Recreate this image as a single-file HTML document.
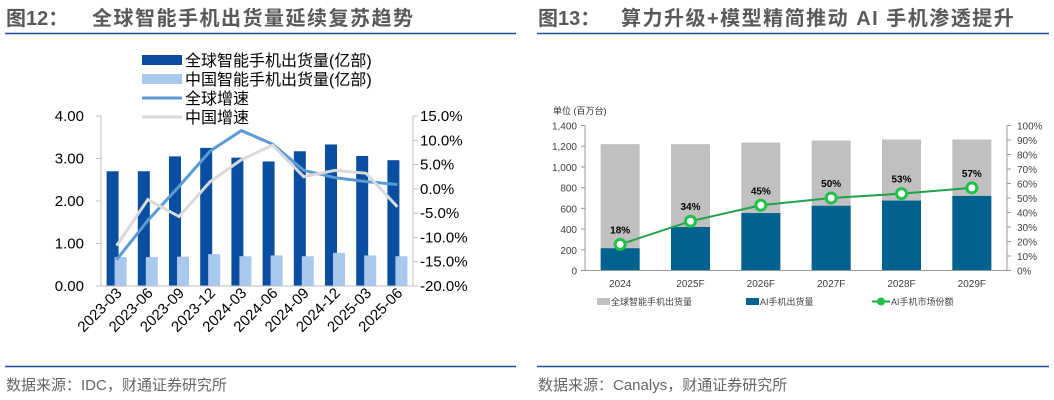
<!DOCTYPE html>
<html><head><meta charset="utf-8"><style>
body{margin:0;width:1054px;height:400px;background:#fff;overflow:hidden;font-family:"Liberation Sans","Noto Sans CJK SC",sans-serif}
svg{position:absolute;left:0;top:0}
</style></head><body>
<svg id="s" width="1054" height="400">
<text x="6" y="25" font-size="20" font-weight="bold" fill="#595959" font-family="Liberation Sans,Noto Sans CJK SC,sans-serif">图12：</text>
<text x="92" y="25" font-size="20" font-weight="bold" fill="#595959" letter-spacing="1.5" font-family="Liberation Sans,Noto Sans CJK SC,sans-serif">全球智能手机出货量延续复苏趋势</text>
<line x1="5" y1="33.5" x2="516" y2="33.5" stroke="#1f4e9a" stroke-width="1.5"/>
<text x="538" y="25" font-size="20" font-weight="bold" fill="#595959" font-family="Liberation Sans,Noto Sans CJK SC,sans-serif">图13：</text>
<text x="621" y="25" font-size="20" font-weight="bold" fill="#595959" letter-spacing="1.5" font-family="Liberation Sans,Noto Sans CJK SC,sans-serif">算力升级+模型精简推动 AI 手机渗透提升</text>
<line x1="537" y1="33.5" x2="1049" y2="33.5" stroke="#1f4e9a" stroke-width="1.5"/>
<line x1="5" y1="366.5" x2="516" y2="366.5" stroke="#1f4e9a" stroke-width="1.5"/>
<line x1="537" y1="366.5" x2="1049" y2="366.5" stroke="#1f4e9a" stroke-width="1.5"/>
<text x="6" y="390" font-size="15" fill="#666" font-family="Liberation Sans,Noto Sans CJK SC,sans-serif">数据来源：IDC，财通证券研究所</text>
<text x="538" y="390" font-size="15" fill="#666" font-family="Liberation Sans,Noto Sans CJK SC,sans-serif">数据来源：Canalys，财通证券研究所</text>
<g id="c1"></g>
<g id="c2"></g>
</svg>
<script>
const cats1=["2023-03","2023-06","2023-09","2023-12","2024-03","2024-06","2024-09","2024-12","2025-03","2025-06"];
const globalShip=[2.70,2.70,3.05,3.25,3.02,2.93,3.17,3.33,3.06,2.96];
const chinaShip=[0.68,0.68,0.69,0.75,0.70,0.72,0.70,0.78,0.72,0.70];
const globalGrowth=[-14.6,-6.5,0.5,7.8,12.0,9.2,3.8,2.3,1.5,0.9];
const chinaGrowth=[-11.7,-2.2,-5.7,1.5,6.0,9.0,2.5,3.8,3.2,-3.7];
const leftTicks=["0.00","1.00","2.00","3.00","4.00"];
const rightTicks=["-20.0%","-15.0%","-10.0%","-5.0%","0.0%","5.0%","10.0%","15.0%"];
const cats2=["2024","2025F","2026F","2027F","2028F","2029F"];
const totalShip=[1220,1220,1235,1255,1265,1265];
const aiShip=[215,420,555,625,675,720];
const aiShare=[18,34,45,50,53,57];
const ticks2L=["0","200","400","600","800","1,000","1,200","1,400"];
const ticks2R=["0%","10%","20%","30%","40%","50%","60%","70%","80%","90%","100%"];
const NS="http://www.w3.org/2000/svg";
function mk(p,t,a,txt){const e=document.createElementNS(NS,t);for(const k in a)e.setAttribute(k,a[k]);if(txt!=null)e.textContent=txt;p.appendChild(e);return e;}
const F='Liberation Sans,Noto Sans CJK SC,sans-serif';
// chart 1
const g1=document.getElementById('c1');
const X0=101,X1=413,Y0=286,Y1=116;
const bw1=(X1-X0)/cats1.length;
const yL=v=>Y0-(v/4)*(Y0-Y1);
const yR=v=>Y0-((v+20)/35)*(Y0-Y1);
const cx1=i=>X0+bw1*(i+0.5);
leftTicks.forEach((t,i)=>{const y=yL(i);
 let e=mk(g1,'text',{x:84,y:y+5,'font-size':15,'text-anchor':'end',fill:'#000','font-family':F},t);
 
 
 mk(g1,'line',{x1:96,x2:101,y1:y,y2:y,stroke:'#bfbfbf'});});
rightTicks.forEach((t,i)=>{const y=yR(-20+i*5);
 let e=mk(g1,'text',{x:420,y:y+5,'font-size':15,fill:'#000','font-family':F},t);
 
 
 mk(g1,'line',{x1:413,x2:418,y1:y,y2:y,stroke:'#bfbfbf'});});
mk(g1,'line',{x1:X0,x2:X0,y1:Y1,y2:Y0,stroke:'#bfbfbf'});
mk(g1,'line',{x1:X1,x2:X1,y1:Y1,y2:Y0,stroke:'#bfbfbf'});
cats1.forEach((c,i)=>{
 let b=mk(g1,'rect',{x:cx1(i)-10,y:yL(globalShip[i]),width:12,height:Y0-yL(globalShip[i]),fill:'#0a4ea2'});
 
 
 let b2=mk(g1,'rect',{x:cx1(i)-2,y:yL(chinaShip[i]),width:12,height:Y0-yL(chinaShip[i]),fill:'#a9c8ee'});
 
 
 let t=mk(g1,'text',{x:0,y:0,'font-size':15,'text-anchor':'end',fill:'#000','font-family':F,transform:`translate(${cx1(i)+6},${Y0+8}) rotate(-45)`},c);
 
 
});
mk(g1,'line',{x1:X0,x2:X1,y1:Y0,y2:Y0,stroke:'#bfbfbf'});
let l1=mk(g1,'polyline',{points:globalGrowth.map((v,i)=>cx1(i)+','+yR(v)).join(' '),fill:'none',stroke:'#5b9bd5','stroke-width':3});


let l2=mk(g1,'polyline',{points:chinaGrowth.map((v,i)=>cx1(i)+','+yR(v)).join(' '),fill:'none',stroke:'#d9d9d9','stroke-width':3});


const leg1=[["全球智能手机出货量(亿部)",'bar','#0a4ea2'],["中国智能手机出货量(亿部)",'bar','#a9c8ee'],["全球增速",'line','#5b9bd5'],["中国增速",'line','#d9d9d9']];
leg1.forEach((l,i)=>{const y=60+i*19;
 if(l[1]=='bar')mk(g1,'rect',{x:142,y:y-5,width:40,height:10,fill:l[2]});
 else mk(g1,'line',{x1:142,x2:182,y1:y,y2:y,stroke:l[2],'stroke-width':3});
 let e=mk(g1,'text',{x:185,y:y+6,'font-size':16,fill:'#000','font-family':F},l[0]);
 
 });
// chart 2
const g2=document.getElementById('c2');
const A0=585,A1=1007,B0=270.5,B1=125.5;
const bw2=(A1-A0)/cats2.length;
const y2=v=>B0-(v/1400)*(B0-B1);
const y2r=v=>B0-(v/100)*(B0-B1);
const cx2=i=>A0+bw2*(i+0.5);
mk(g2,'text',{x:553,y:114,'font-size':9,fill:'#333','font-family':F},'单位 (百万台)');
ticks2L.forEach((t,i)=>{const y=y2(i*200);
 let e=mk(g2,'text',{x:577,y:y+4,'font-size':10,'text-anchor':'end',fill:'#404040','font-family':F},t);
 
 
 mk(g2,'line',{x1:581,x2:585,y1:y,y2:y,stroke:'#999'});});
ticks2R.forEach((t,i)=>{const y=y2r(i*10);
 let e=mk(g2,'text',{x:1017,y:y+4,'font-size':10,fill:'#404040','font-family':F},t);
 
 
 mk(g2,'line',{x1:1007,x2:1011,y1:y,y2:y,stroke:'#999'});});
mk(g2,'line',{x1:A0,x2:A0,y1:B1,y2:B0,stroke:'#999'});
mk(g2,'line',{x1:A1,x2:A1,y1:B1,y2:B0,stroke:'#999'});
cats2.forEach((c,i)=>{
 let b=mk(g2,'rect',{x:cx2(i)-19.5,y:y2(totalShip[i]),width:39,height:B0-y2(totalShip[i]),fill:'#c0c0c0'});
 
 
 let b2=mk(g2,'rect',{x:cx2(i)-19.5,y:y2(aiShip[i]),width:39,height:B0-y2(aiShip[i]),fill:'#02628f'});
 
 
 let t=mk(g2,'text',{x:cx2(i),y:287,'font-size':10,'text-anchor':'middle',fill:'#404040','font-family':F},c);
 
 
});
mk(g2,'line',{x1:A0,x2:A1,y1:B0,y2:B0,stroke:'#999'});
let l3=mk(g2,'polyline',{points:aiShare.map((v,i)=>cx2(i)+','+y2r(v)).join(' '),fill:'none',stroke:'#1ea24a','stroke-width':2});


aiShare.forEach((v,i)=>{
 let p=mk(g2,'circle',{cx:cx2(i),cy:y2r(v),r:5,fill:'#fff',stroke:'#1ec24a','stroke-width':3});
 
 
 let t=mk(g2,'text',{x:cx2(i),y:y2r(v)-11,'font-size':10,'font-weight':'bold','text-anchor':'middle',fill:'#000','font-family':F},v+'%');
 
 
});
const leg2=[[597,'全球智能手机出货量','#c0c0c0'],[746,'AI手机出货量','#02628f']];
leg2.forEach(l=>{mk(g2,'rect',{x:l[0],y:298,width:13,height:7,fill:l[2]});
 let e=mk(g2,'text',{x:l[0]+14,y:305,'font-size':9,fill:'#404040','font-family':F},l[1]);
 
 });
mk(g2,'line',{x1:872,x2:890,y1:301.5,y2:301.5,stroke:'#1ea24a','stroke-width':2});
mk(g2,'circle',{cx:881,cy:301.5,r:4,fill:'#1ec24a'});
let e3=mk(g2,'text',{x:891,y:305,'font-size':9,fill:'#404040','font-family':F},'AI手机市场份额');


</script>
</body></html>
